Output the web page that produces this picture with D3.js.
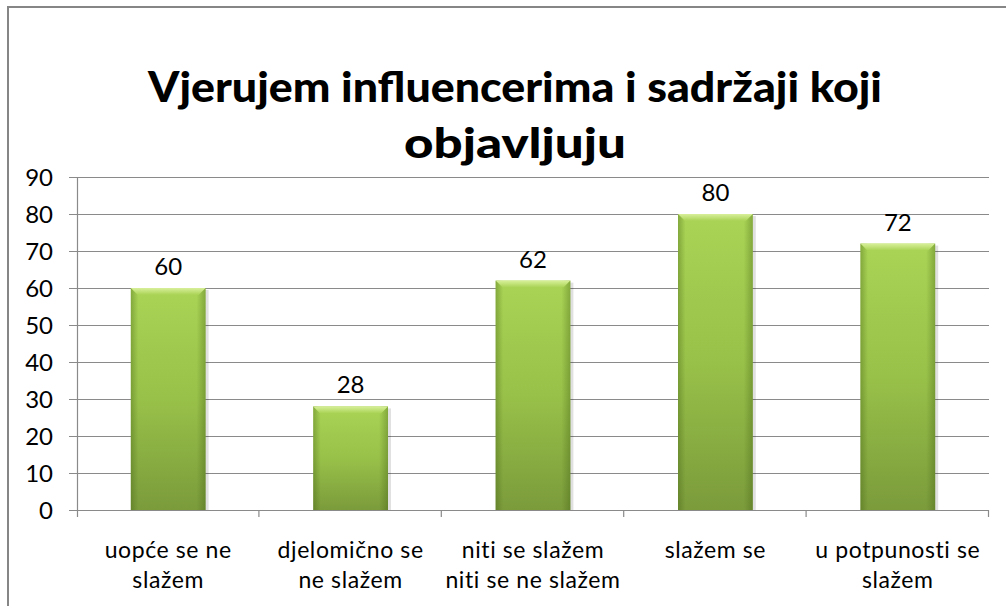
<!DOCTYPE html>
<html><head><meta charset="utf-8">
<script src="https://cdn.jsdelivr.net/npm/d3@7"></script>
<style>body{margin:0;background:#fff}svg{display:block}</style>
</head><body>
<svg id="c" width="1006" height="606"></svg>
<script>
const titleLines = ["Vjerujem influencerima i sadržaji koji", "objavljuju"];
const categories = ["uopće se ne slažem", "djelomično se ne slažem", "niti se slažem niti se ne slažem", "slažem se", "u potpunosti se slažem"];
const categoryLines = [["uopće se ne", "slažem"], ["djelomično se", "ne slažem"], ["niti se slažem", "niti se ne slažem"], ["slažem se"], ["u potpunosti se", "slažem"]];
const values = [60, 28, 62, 80, 72];
const yTicks = [0, 10, 20, 30, 40, 50, 60, 70, 80, 90];

const svg = d3.select("#c");
const font = "Lato, 'Open Sans', sans-serif";
const m = {left: 77, right: 989, top: 177, bottom: 510};

// frame
svg.append("rect").attr("x", 8).attr("y", 7).attr("width", 1010).attr("height", 620)
  .attr("fill", "#fff").attr("stroke", "#868686").attr("stroke-width", 2);

// defs
const defs = svg.append("defs");
const gv = defs.append("linearGradient").attr("id", "gv").attr("x1", 0).attr("y1", 0).attr("x2", 0).attr("y2", 1);
gv.append("stop").attr("offset", 0).attr("stop-color", "#a9d455");
gv.append("stop").attr("offset", 0.5).attr("stop-color", "#98c149");
gv.append("stop").attr("offset", 1).attr("stop-color", "#7b9b3b");
const gh = defs.append("linearGradient").attr("id", "gh").attr("x1", 0).attr("y1", 0).attr("x2", 1).attr("y2", 0);
gh.append("stop").attr("offset", 0).attr("stop-color", "#3d5a10").attr("stop-opacity", 0.35);
gh.append("stop").attr("offset", 0.1).attr("stop-color", "#3d5a10").attr("stop-opacity", 0.0);
gh.append("stop").attr("offset", 0.88).attr("stop-color", "#3d5a10").attr("stop-opacity", 0.0);
gh.append("stop").attr("offset", 1).attr("stop-color", "#3d5a10").attr("stop-opacity", 0.35);
const gt = defs.append("linearGradient").attr("id", "gt").attr("x1", 0).attr("y1", 0).attr("x2", 0).attr("y2", 1);
gt.append("stop").attr("offset", 0).attr("stop-color", "#d8f09a");
gt.append("stop").attr("offset", 1).attr("stop-color", "#a8d253");

// title
const title = svg.append("g");
title.append("text").attr("x", 515).attr("y", 102).attr("text-anchor", "middle")
  .attr("font-family", font).attr("font-weight", "900").attr("font-size", 42).attr("fill", "#000")
  .attr("textLength", 734).attr("lengthAdjust", "spacingAndGlyphs").text(titleLines[0]);
title.append("text").attr("x", 515).attr("y", 158).attr("text-anchor", "middle")
  .attr("font-family", font).attr("font-weight", "900").attr("font-size", 42).attr("fill", "#000")
  .attr("textLength", 222).attr("lengthAdjust", "spacingAndGlyphs").text(titleLines[1]);

const x = d3.scaleBand().domain(categories).range([m.left, m.right]).paddingInner(0).paddingOuter(0);
const y = d3.scaleLinear().domain([0, 90]).range([m.bottom, m.top]);

// gridlines
svg.append("g").selectAll("line").data(yTicks).join("line")
  .attr("x1", m.left - 8).attr("x2", m.right)
  .attr("y1", d => y(d) + 0.5).attr("y2", d => y(d) + 0.5)
  .attr("stroke", "#8a8a8a").attr("stroke-width", 1.2);

// y axis
const yAxis = svg.append("g").attr("transform", `translate(${m.left},0)`)
  .call(d3.axisLeft(y).tickValues(yTicks).tickSize(0).tickPadding(0));
yAxis.select(".domain").remove();
yAxis.attr("font-size", null).attr("font-family", null);
yAxis.selectAll("text").attr("x", -24).attr("dy", "0.36em")
  .style("font-family", font).style("font-size", "24px").attr("fill", "#000");
svg.append("line").attr("x1", m.left + 0.5).attr("x2", m.left + 0.5).attr("y1", m.top).attr("y2", m.bottom + 7)
  .attr("stroke", "#8a8a8a").attr("stroke-width", 1.2);

// x axis ticks at band boundaries
const xAxis = svg.append("g").attr("transform", `translate(0,${m.bottom})`)
  .call(d3.axisBottom(x).tickSize(0).tickFormat(""));
xAxis.select(".domain").remove();
svg.append("g").selectAll("line").data(categories).join("line")
  .attr("x1", d => x(d) + x.bandwidth() - 0.5).attr("x2", d => x(d) + x.bandwidth() - 0.5)
  .attr("y1", m.bottom).attr("y2", m.bottom + 7).attr("stroke", "#8a8a8a").attr("stroke-width", 1.2);

// bars
const bw = x.bandwidth() * 0.41;
const bars = svg.append("g").selectAll("g").data(values).join("g")
  .attr("transform", (d, i) => `translate(${x(categories[i]) + (x.bandwidth() - bw) / 2},0)`);
bars.append("rect").attr("x", 3).attr("y", d => y(d) + 2).attr("width", bw).attr("height", d => y(0) - y(d) - 2)
  .attr("fill", "#000").attr("opacity", 0.12);
bars.append("rect").attr("x", 0).attr("y", d => y(d)).attr("width", bw).attr("height", d => y(0) - y(d))
  .attr("fill", "url(#gv)");
bars.append("rect").attr("x", 0).attr("y", d => y(d)).attr("width", bw).attr("height", d => y(0) - y(d))
  .attr("fill", "url(#gh)");
bars.append("path").attr("d", d => {
  const t = y(d);
  return `M0,${t} L${bw},${t} L${bw - 7},${t + 7} L7,${t + 7} Z`;
}).attr("fill", "url(#gt)");

// data labels
svg.append("g").selectAll("text").data(values).join("text")
  .attr("x", (d, i) => x(categories[i]) + x.bandwidth() / 2)
  .attr("y", d => y(d) - 13)
  .attr("text-anchor", "middle").style("font-family", font).style("font-size", "24px").attr("fill", "#000")
  .text(d => d);

// category labels
const cl = svg.append("g").selectAll("text").data(categoryLines).join("text")
  .attr("x", (d, i) => x(categories[i]) + x.bandwidth() / 2)
  .attr("y", 558).attr("text-anchor", "middle").style("font-family", font).style("font-size", "23px")
  .style("letter-spacing", "0.6px").attr("fill", "#000");
cl.selectAll("tspan").data(d => d).join("tspan")
  .attr("x", function() { return d3.select(this.parentNode).attr("x"); })
  .attr("dy", (d, i) => i === 0 ? 0 : 30).text(d => d);
</script>
</body></html>
